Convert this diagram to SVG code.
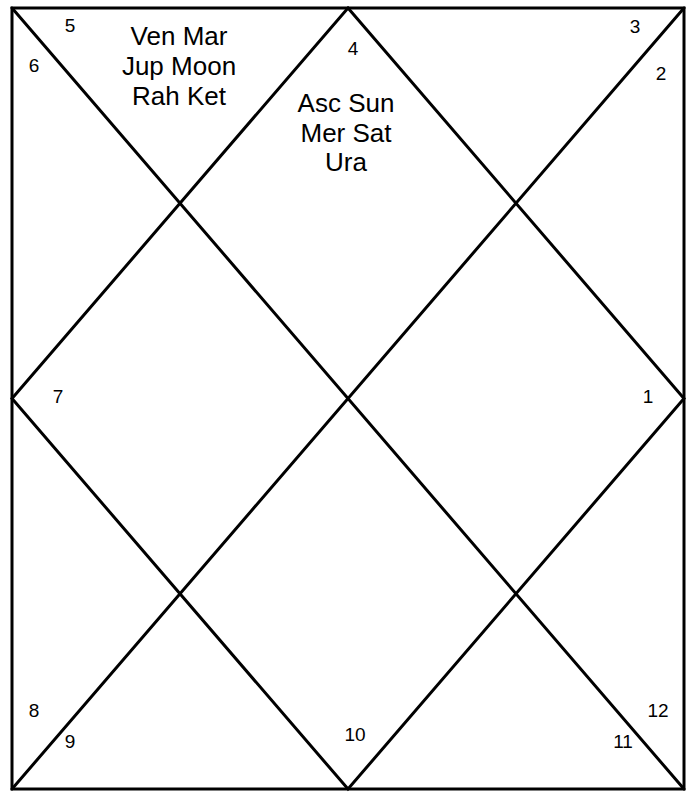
<svg xmlns="http://www.w3.org/2000/svg" width="693" height="792" viewBox="0 0 693 792">
<style>
.l{stroke:#000;stroke-width:3;fill:none;stroke-linecap:round}
.n{font-family:"Liberation Sans",Arial,sans-serif;font-size:19px;fill:#000;text-anchor:middle}
.p{font-family:"Liberation Sans",Arial,sans-serif;font-size:26px;fill:#000;text-anchor:middle}
</style>
<rect width="693" height="792" fill="#fff"/>
<g id="connectors">
<rect class="l" x="12" y="8" width="672" height="781"/>
<line class="l" x1="12" y1="8" x2="684" y2="789"/>
<line class="l" x1="684" y1="8" x2="12" y2="789"/>
<polygon class="l" points="348,8 684,398.5 348,789 12,398.5"/>
</g>
<g id="h1"><text class="n" x="648" y="403">1</text></g>
<g id="h2"><text class="n" x="661" y="80">2</text></g>
<g id="h3"><text class="n" x="635" y="33">3</text></g>
<g id="h4"><text class="n" x="353" y="55">4</text><text class="p" x="346" y="112">Asc Sun</text><text class="p" x="346" y="142">Mer Sat</text><text class="p" x="346" y="171">Ura</text></g>
<g id="h5"><text class="n" x="70" y="32">5</text><text class="p" x="179" y="45">Ven Mar</text><text class="p" x="179" y="75">Jup Moon</text><text class="p" x="179" y="105">Rah Ket</text></g>
<g id="h6"><text class="n" x="34" y="72">6</text></g>
<g id="h7"><text class="n" x="58" y="403">7</text></g>
<g id="h8"><text class="n" x="34" y="717">8</text></g>
<g id="h9"><text class="n" x="70" y="748">9</text></g>
<g id="h10"><text class="n" x="355" y="741">10</text></g>
<g id="h11"><text class="n" x="623" y="748">11</text></g>
<g id="h12"><text class="n" x="658" y="717">12</text></g>
</svg>
